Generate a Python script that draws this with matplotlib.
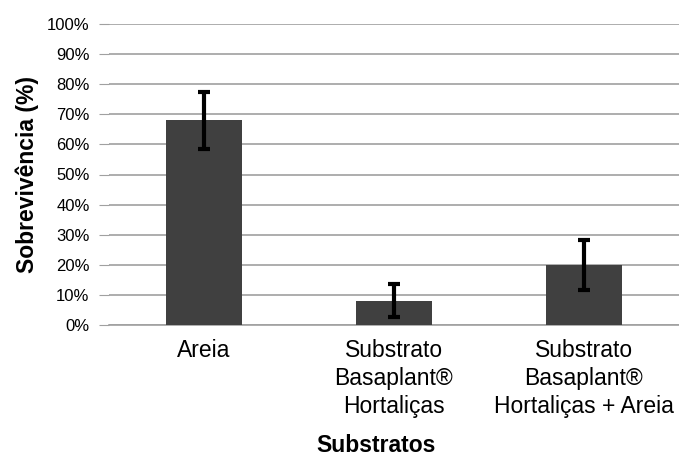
import matplotlib.pyplot as plt
from matplotlib.ticker import PercentFormatter

plt.rcParams['font.family'] = ['Liberation Sans', 'DejaVu Sans']

categorias = ['Areia', 'Substrato\nBasaplant®\nHortaliças', 'Substrato\nBasaplant®\nHortaliças + Areia']
sobrevivencia = [68, 8, 20]
erro = [9.5, 5.5, 8.3]

fig = plt.figure(figsize=(6.79, 4.59), dpi=100)
ax = fig.add_axes([109 / 679, 1 - 325 / 459, 570 / 679, 301 / 459])

x = range(len(categorias))
ax.bar(x, sobrevivencia, width=0.395, color='#404040', zorder=3)
ax.errorbar(x, sobrevivencia, yerr=erro, fmt='none', ecolor='black',
            elinewidth=3, capsize=4, capthick=3, zorder=4)

ax.set_xlim(-0.5, 2.5)
ax.set_ylim(0, 100)
ax.set_yticks(range(0, 101, 10))
ax.yaxis.set_major_formatter(PercentFormatter(decimals=0))
ax.grid(axis='y', color='#a0a0a0', linewidth=1.2, zorder=0)

ax.set_xticks(list(x))
ax.set_xticklabels(categorias, fontsize=16.5, linespacing=1.29)
ax.tick_params(axis='x', length=0, pad=10)
ax.tick_params(axis='y', labelsize=12, length=7, color='#a0a0a0', pad=7)

for s in ['top', 'right', 'left']:
    ax.spines[s].set_visible(False)
ax.spines['bottom'].set_color('#a0a0a0')
ax.spines['bottom'].set_linewidth(1.2)

ax.set_ylabel('Sobrevivência (%)', fontsize=16.5, fontweight='bold', labelpad=6)
ax.set_xlabel('Substratos', fontsize=16.5, fontweight='bold', labelpad=11)
ax.xaxis.label.set_x((376 - 109) / 570)

fig.savefig('out.png', dpi=100)
